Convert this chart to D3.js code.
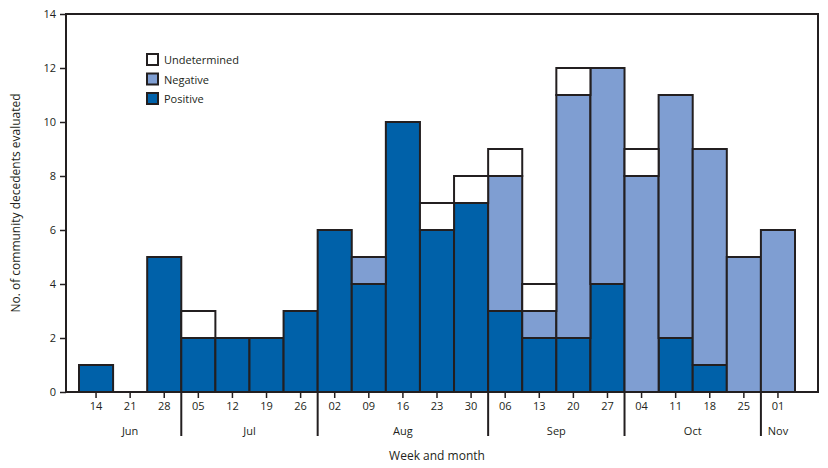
<!DOCTYPE html>
<html>
<head>
<meta charset="utf-8">
<script src="https://cdn.jsdelivr.net/npm/d3@7"></script>
<style>
body { margin: 0; background: #fff; }
text { font-family: "Open Sans", "Noto Sans", sans-serif; fill: #231f20; }
</style>
</head>
<body>
<div id="container"></div>
<script>
var weeks = ["14","21","28","05","12","19","26","02","09","16","23","30","06","13","20","27","04","11","18","25","01"];
var months = ["Jun","Jun","Jun","Jul","Jul","Jul","Jul","Aug","Aug","Aug","Aug","Aug","Sep","Sep","Sep","Sep","Oct","Oct","Oct","Oct","Nov"];
var positive     = [1,0,5,2,2,2,3,6,4,10,6,7,3,2,2,4,0,2,1,0,0];
var negative     = [0,0,0,0,0,0,0,0,1,0,0,0,5,1,9,8,8,9,8,5,6];
var undetermined = [0,0,0,1,0,0,0,0,0,0,1,1,1,1,1,0,1,0,0,0,0];
var seriesNames = ["Positive","Negative","Undetermined"];
var yTicks = [0,2,4,6,8,10,12,14];

var colors = { Positive: "#0061a9", Negative: "#7f9ed2", Undetermined: "#ffffff" };
var ink = "#231f20";

var width = 828, height = 468;
var plotLeft = 66, plotTop = 14, plotRight = 818, plotBottom = 392;

var svg = d3.select("#container").append("svg")
	.attr("width", width)
	.attr("height", height);

var x = d3.scaleBand().domain(d3.range(weeks.length)).range([79, 795]).padding(0);
var y = d3.scaleLinear().domain([0, 14]).range([plotBottom, plotTop]);

var rows = weeks.map(function(w, i) {
	return { i: i, Positive: positive[i], Negative: negative[i], Undetermined: undetermined[i] };
});
var stacked = d3.stack().keys(seriesNames)(rows);

// frame
svg.append("rect")
	.attr("x", plotLeft).attr("y", plotTop)
	.attr("width", plotRight - plotLeft).attr("height", plotBottom - plotTop)
	.attr("fill", "none").attr("stroke", ink).attr("stroke-width", 2);

// bars
stacked.forEach(function(layer) {
	svg.append("g").selectAll("rect")
		.data(layer.filter(function(d) { return d[1] > d[0]; }))
		.enter().append("rect")
		.attr("x", function(d) { return x(d.data.i); })
		.attr("y", function(d) { return y(d[1]); })
		.attr("width", x.bandwidth())
		.attr("height", function(d) { return y(d[0]) - y(d[1]); })
		.attr("fill", colors[layer.key])
		.attr("stroke", ink)
		.attr("stroke-width", 2);
});

// y axis
var yAxis = svg.append("g")
	.attr("transform", "translate(" + plotLeft + ",0)")
	.call(d3.axisLeft(y).tickValues(yTicks).tickSize(6).tickPadding(4).tickFormat(d3.format("d")));
yAxis.select(".domain").remove();
yAxis.selectAll("line").attr("stroke", ink).attr("stroke-width", 1.5);
yAxis.selectAll("text").style("font-size", "11px").attr("fill", ink);

// x axis (weeks)
var xAxis = svg.append("g")
	.attr("transform", "translate(0," + plotBottom + ")")
	.call(d3.axisBottom(x).tickSize(6).tickPadding(4).tickFormat(function(i) { return weeks[i]; }));
xAxis.select(".domain").remove();
xAxis.selectAll("line").attr("stroke", ink).attr("stroke-width", 1.5);
xAxis.selectAll("text").style("font-size", "11px").attr("fill", ink);

// month groups
var monthGroups = [];
months.forEach(function(m, i) {
	var last = monthGroups[monthGroups.length - 1];
	if (last && last.name === m) last.end = i;
	else monthGroups.push({ name: m, start: i, end: i });
});

svg.append("g").selectAll("line")
	.data(monthGroups.slice(1))
	.enter().append("line")
	.attr("x1", function(d) { return x(d.start); })
	.attr("x2", function(d) { return x(d.start); })
	.attr("y1", plotBottom).attr("y2", 436)
	.attr("stroke", ink).attr("stroke-width", 2);

svg.append("g").selectAll("text")
	.data(monthGroups)
	.enter().append("text")
	.attr("x", function(d) { return (x(d.start) + x(d.end) + x.bandwidth()) / 2; })
	.attr("y", 435)
	.attr("text-anchor", "middle")
	.style("font-size", "11px")
	.text(function(d) { return d.name; });

// axis titles
svg.append("text")
	.attr("x", 437).attr("y", 460)
	.attr("text-anchor", "middle")
	.style("font-size", "12px")
	.text("Week and month");

svg.append("text")
	.attr("transform", "translate(20," + ((plotTop + plotBottom) / 2) + ") rotate(-90)")
	.attr("text-anchor", "middle")
	.style("font-size", "12px")
	.text("No. of community decedents evaluated");

// legend
var legend = svg.append("g").attr("transform", "translate(147,54)");
var legendItems = legend.selectAll("g")
	.data(["Undetermined","Negative","Positive"])
	.enter().append("g")
	.attr("transform", function(d, i) { return "translate(0," + (i * 19.5) + ")"; });
legendItems.append("rect")
	.attr("width", 11).attr("height", 11)
	.attr("fill", function(d) { return colors[d]; })
	.attr("stroke", ink).attr("stroke-width", 2);
legendItems.append("text")
	.attr("x", 17).attr("y", 10)
	.style("font-size", "11px")
	.text(function(d) { return d; });
</script>
</body>
</html>
